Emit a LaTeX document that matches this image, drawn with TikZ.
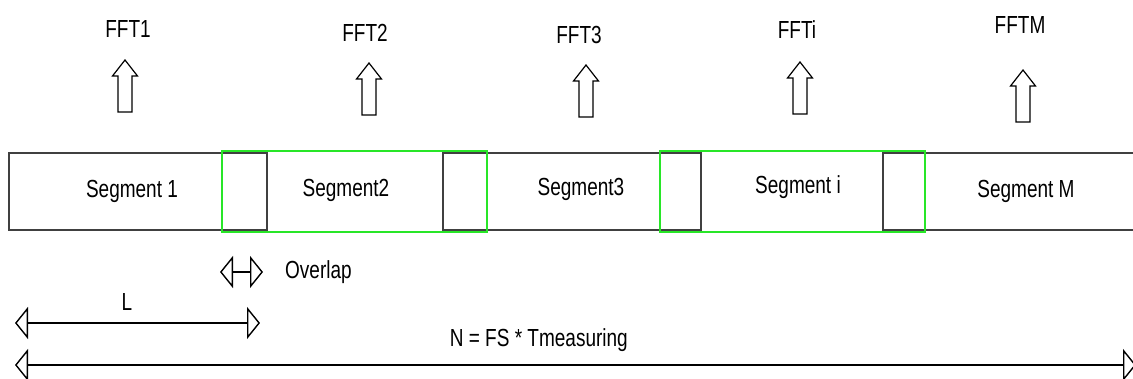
\documentclass[tikz,border=0pt]{standalone}
\usepackage{fontspec}
\setmainfont{Liberation Sans}
\usepackage{graphicx}
\usetikzlibrary{arrows.meta}
\newcommand\stretchtxt[1]{\scalebox{1}[1.3]{#1}}
\definecolor{boxgray}{RGB}{64,64,64}
\definecolor{segGreen}{RGB}{40,230,40}
\begin{document}
\begin{tikzpicture}[x=1pt,y=-1pt,
  lbl/.style={font=\fontsize{19}{22}\selectfont, inner sep=0pt},
  blackseg/.style={draw=boxgray, line width=1.3pt, inner sep=0pt, minimum height=77pt, minimum width=258pt},
  greenseg/.style={draw=segGreen, line width=1.3pt, inner sep=0pt, minimum height=81pt, minimum width=265pt},
  dimline/.style={line width=1.4pt, {Triangle[open,length=13pt,width=32pt]}-{Triangle[open,length=13pt,width=32pt]}},
  fftarrow/.pic={\draw[line width=1.2pt, line join=miter] (-7,52) -- (-7,16) -- (-12.5,16) -- (0,0) -- (12.5,16) -- (7,16) -- (7,52) -- cycle;}
]
\useasboundingbox (0,0) rectangle (1133,378);

% segment boxes
\node[blackseg] (s1box) at (138,191.5) {};
\node[blackseg] (s3box) at (572,191.5) {};
\node[blackseg] (sMbox) at (1012,191.5) {};
\node[greenseg] (s2box) at (354.5,191.5) {};
\node[greenseg] (siBox) at (792.5,191.5) {};

\node[lbl] (seg1) at (132,191) {\stretchtxt{Segment 1}};
\node[lbl] (seg2) at (346,190) {\stretchtxt{Segment2}};
\node[lbl] (seg3) at (581,189) {\stretchtxt{Segment3}};
\node[lbl] (segi) at (798,187) {\stretchtxt{Segment i}};
\node[lbl] (segM) at (1026,191) {\stretchtxt{Segment M}};

% FFT labels and arrows
\node[lbl] (fft1) at (128,29) {\stretchtxt{FFT1}};
\node[lbl] (fft2) at (365,33) {\stretchtxt{FFT2}};
\node[lbl] (fft3) at (579,35) {\stretchtxt{FFT3}};
\node[lbl] (ffti) at (797,30) {\stretchtxt{FFTi}};
\node[lbl] (fftM) at (1020,25) {\stretchtxt{FFTM}};
\pic at (125,60) {fftarrow};
\pic at (369,63) {fftarrow};
\pic at (586,65) {fftarrow};
\pic at (800,62) {fftarrow};
\pic at (1023,70) {fftarrow};

% dimension arrows
\coordinate (ovA) at (220,272);
\coordinate (ovB) at (263,272);
\coordinate (LA) at (15,323);
\coordinate (LB) at (260,323);
\coordinate (NA) at (15,365);
\coordinate (NB) at (1136,365);
\draw[dimline] (ovA) -- (ovB);
\draw[dimline] (LA) -- (LB);
\draw[dimline] (NA) -- (NB);
\node[lbl, anchor=west] (ovl) at (285,272) {\stretchtxt{Overlap}};
\node[lbl] (lblL) at (127,302) {\stretchtxt{L}};
\node[lbl, anchor=east] (lblN) at (628,340) {\stretchtxt{N = FS * Tmeasuring}};
\end{tikzpicture}
\end{document}
